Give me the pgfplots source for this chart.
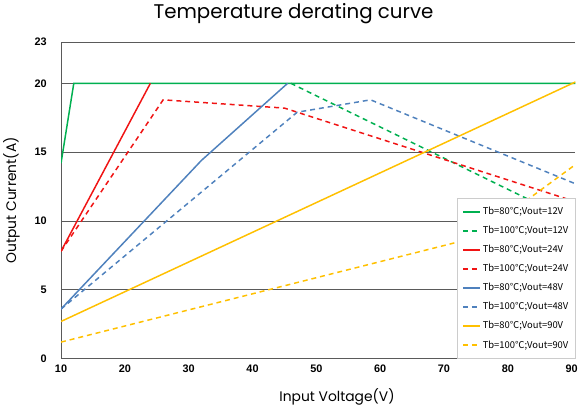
\documentclass[border=0pt]{standalone}
\usepackage{pgfplots}
\pgfplotsset{compat=1.18}
\usepackage{fontspec}
\setmainfont{Liberation Sans}
\newfontfamily\titlefont{Poppins}
\newfontfamily\cjk{Noto Sans CJK SC}

\definecolor{cgreen}{RGB}{0,176,80}
\definecolor{cred}{RGB}{240,20,20}
\definecolor{cblue}{RGB}{79,129,189}
\definecolor{cyellow}{RGB}{255,192,0}
\definecolor{cgrid}{RGB}{90,90,90}

\begin{document}
\begin{tikzpicture}
\begin{axis}[
    scale only axis,
    width=520pt, height=320pt,
    xmin=10, xmax=90.6,
    ymin=0, ymax=23,
    xtick={10,20,...,90},
    ytick={0,5,10,15,20,23},
    axis x line*=bottom,
    axis y line*=left,
    axis line style={cgrid, line width=0.8pt},
    ymajorgrids,
    grid style={cgrid, line width=0.7pt},
    tick style={draw=none},
    xticklabel={\textbf{\pgfmathprintnumber[assume math mode=true]{\tick}}},
    yticklabel={\textbf{\pgfmathprintnumber[assume math mode=true]{\tick}}},
    ticklabel style={font=\fontsize{11}{13}\selectfont},
    xticklabel style={yshift=-3pt},
    yticklabel style={xshift=-11pt},
    title={Temperature derating curve},
    title style={font=\titlefont\fontsize{20}{23}\selectfont, yshift=9pt, xshift=-25pt},
    xlabel={Input Voltage(V)},
    ylabel={Output Current(A)},
    label style={font=\titlefont\fontsize{14}{16}\selectfont},
    xlabel style={yshift=-9pt, xshift=19pt},
    ylabel style={yshift=8pt},
    legend cell align=left,
    legend style={at={(rel axis cs:1,0)}, anchor=south east,
        font=\cjk\fontsize{9.5}{10}\selectfont, draw=gray!40,
        row sep=6.2pt, inner xsep=5pt, inner ysep=7pt},
    legend image post style={line width=1.8pt},
]
% Tb=80, 12V
\addplot[cgreen, line width=1.5pt] coordinates {(10,14.2) (12,20) (90.6,20)};
\addlegendentry{Tb=80℃;Vout=12V}
% Tb=100, 12V
\addplot[cgreen, line width=1.5pt, dash pattern=on 5pt off 4pt] coordinates {(46,20) (90.6,9.9)};
\addlegendentry{Tb=100℃;Vout=12V}
% Tb=80, 24V
\addplot[cred, line width=1.5pt] coordinates {(10,7.8) (24,20)};
\addlegendentry{Tb=80℃;Vout=24V}
% Tb=100, 24V
\addplot[cred, line width=1.5pt, dash pattern=on 5pt off 4pt] coordinates {(10,7.8) (26,18.8) (45,18.2) (90.6,11.4)};
\addlegendentry{Tb=100℃;Vout=24V}
% Tb=80, 48V
\addplot[cblue, line width=1.5pt] coordinates {(10,3.6) (32,14.4) (45.5,20)};
\addlegendentry{Tb=80℃;Vout=48V}
% Tb=100, 48V
\addplot[cblue, line width=1.5pt, dash pattern=on 5pt off 4pt] coordinates {(10,3.6) (47,17.9) (58.5,18.8) (90.6,12.7)};
\addlegendentry{Tb=100℃;Vout=48V}
% Tb=80, 90V
\addplot[cyellow, line width=1.5pt] coordinates {(10,2.7) (90.6,20.1)};
\addlegendentry{Tb=80℃;Vout=90V}
% Tb=100, 90V
\addplot[cyellow, line width=1.5pt, dash pattern=on 5pt off 4pt] coordinates {(10,1.2) (75,8.8) (90.6,14.1)};
\addlegendentry{Tb=100℃;Vout=90V}
\end{axis}
\end{tikzpicture}
\end{document}
